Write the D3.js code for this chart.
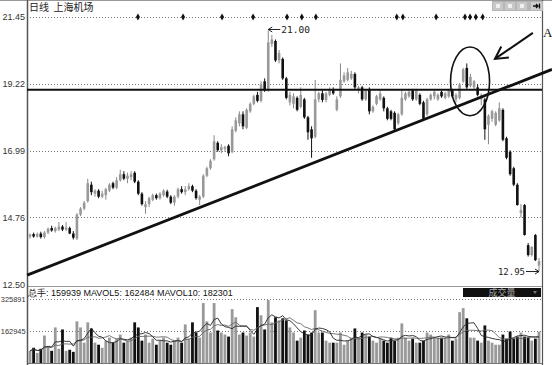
<!DOCTYPE html>
<html>
<head>
<meta charset="utf-8">
<script src="https://cdnjs.cloudflare.com/ajax/libs/d3/7.8.5/d3.min.js"></script>
<style>
body { margin: 0; background: #fff; }
svg { display: block; font-family: "Liberation Sans", Arial, sans-serif; }
</style>
</head>
<body>
<div class="chart"></div>
<script>
// DATA : [open, high, low, close] per trading day //
var priceBars = [
  [14.12,14.22,14.05,14.18],[14.20,14.25,14.08,14.12],[14.12,14.25,14.08,14.20],[14.22,14.28,14.05,14.10],
  [14.10,14.30,14.05,14.25],[14.25,14.42,14.20,14.38],[14.40,14.48,14.28,14.32],[14.30,14.45,14.25,14.40],
  [14.35,14.60,14.30,14.45],[14.45,14.50,14.30,14.35],[14.35,14.60,14.30,14.42],[14.40,14.45,14.20,14.22],
  [14.22,14.30,14.02,14.08],[14.05,14.90,14.00,14.85],[14.85,15.10,14.80,15.05],[15.05,15.30,15.00,15.25],
  [15.30,16.05,15.25,15.90],[15.85,15.95,15.50,15.60],[15.55,15.70,15.45,15.65],[15.65,15.70,15.40,15.45],
  [15.45,15.65,15.40,15.55],[15.50,15.75,15.35,15.70],[15.65,15.90,15.60,15.85],[15.90,15.95,15.70,15.75],
  [15.75,16.10,15.70,16.00],[16.00,16.35,15.95,16.20],[16.20,16.30,16.00,16.05],[16.05,16.25,15.90,16.15],
  [16.10,16.30,16.00,16.20],[16.25,16.30,15.90,15.95],[15.95,16.00,15.50,15.55],[15.55,15.60,15.15,15.20],
  [15.10,15.30,14.88,15.20],[15.20,15.45,15.10,15.40],[15.35,15.55,15.30,15.50],[15.50,15.55,15.35,15.40],
  [15.40,15.60,15.35,15.55],[15.50,15.70,15.45,15.65],[15.62,15.68,15.40,15.45],[15.45,15.50,15.20,15.25],
  [15.25,15.50,15.15,15.45],[15.45,15.75,15.40,15.70],[15.70,15.80,15.55,15.60],[15.60,15.80,15.50,15.70],
  [15.70,15.90,15.65,15.80],[15.80,15.85,15.60,15.65],[15.65,15.70,15.35,15.40],[15.35,15.50,15.17,15.45],
  [15.45,16.20,15.40,16.15],[16.15,16.45,16.10,16.40],[16.40,16.70,16.35,16.65],[16.70,17.50,16.65,17.30],
  [17.25,17.30,16.95,17.00],[17.00,17.20,16.90,17.10],[17.05,17.15,16.95,17.10],[17.15,17.20,16.80,16.90],
  [16.95,17.80,16.90,17.70],[17.65,18.10,17.60,18.00],[17.90,18.30,17.80,18.20],[18.20,18.30,17.70,17.80],
  [17.75,18.40,17.70,18.35],[18.30,18.60,18.25,18.55],[18.55,18.85,18.50,18.80],[18.85,18.95,18.60,18.65],
  [18.65,19.30,18.60,19.20],[19.30,19.40,18.95,19.00],[19.00,21.00,18.95,20.60],[20.55,20.85,20.45,20.70],
  [20.65,20.70,19.95,20.00],[20.00,20.35,19.90,20.25],[20.05,20.10,19.35,19.40],[19.40,19.45,18.70,18.75],
  [18.60,18.95,18.50,18.85],[18.55,18.90,18.40,18.80],[18.75,18.80,18.30,18.35],[18.45,19.10,18.40,18.85],
  [18.70,18.75,18.05,18.10],[18.10,18.15,17.35,17.60],[17.70,17.80,16.75,17.40],[17.45,19.35,17.40,18.70],
  [18.70,18.95,18.60,18.90],[18.90,19.00,18.60,18.68],[18.68,18.95,18.60,18.90],[18.85,19.10,18.80,19.00],
  [19.00,19.10,18.85,18.90],[18.35,18.80,18.30,18.70],[18.80,19.90,18.75,19.35],[19.30,19.60,19.25,19.50],
  [19.35,19.75,19.30,19.60],[19.40,19.65,19.35,19.55],[19.55,19.60,19.05,19.10],[19.00,19.15,18.90,19.10],
  [19.10,19.15,18.65,18.70],[18.70,19.05,18.65,19.00],[19.05,19.10,18.20,18.30],[18.30,18.50,18.25,18.45],
  [18.55,18.85,18.50,18.80],[18.70,19.00,18.65,18.90],[18.75,18.80,18.30,18.40],[18.40,18.45,18.00,18.05],
  [18.30,18.35,18.00,18.05],[18.25,18.30,17.65,17.70],[17.90,18.25,17.85,18.20],[18.20,19.00,18.15,18.75],
  [18.70,18.95,18.65,18.90],[18.80,19.05,18.75,18.95],[19.00,19.05,18.65,18.70],[18.70,19.05,18.65,19.00],
  [18.85,18.90,18.50,18.55],[18.60,18.65,18.00,18.05],[18.20,18.75,18.15,18.70],[18.70,18.90,18.65,18.85],
  [18.80,19.00,18.70,18.95],[18.70,18.90,18.65,18.85],[18.95,19.00,18.75,18.80],[18.75,18.95,18.70,18.90],
  [18.80,19.05,18.75,19.00],[19.00,19.05,18.75,18.80],[18.70,18.90,18.60,18.85],[18.75,19.25,18.70,19.20],
  [19.30,19.75,19.25,19.70],[19.75,19.90,19.05,19.10],[19.15,19.55,19.10,19.45],[19.10,19.35,19.05,19.30],
  [19.10,19.20,18.80,18.85],[18.70,18.90,18.50,18.85],[18.70,18.75,17.35,17.70],[17.85,18.20,17.20,18.15],
  [18.05,18.35,17.95,18.30],[17.85,18.30,17.80,18.25],[18.00,18.60,17.95,18.40],[18.35,18.40,17.30,17.35],
  [17.40,17.45,16.70,16.75],[16.95,17.00,16.15,16.20],[16.40,16.45,15.80,15.85],[15.85,15.90,15.15,15.17],
  [14.90,15.20,14.75,15.00],[15.17,15.20,14.15,14.17],[13.83,13.90,13.45,13.50],[13.50,13.80,13.45,13.77],
  [14.17,14.20,13.30,13.33],[13.15,13.40,12.95,13.30]
];

var volumes = [
  62100,77600,51700,72400,139700,82800,62100,181100,72400,170700,62100,67300,56900,212100,181100,103500,
  206900,175900,103500,93100,77600,113800,129300,103500,124200,144800,103500,113800,129300,206900,181100,113800,
  144800,103500,124200,93100,113800,129300,103500,93100,113800,129300,103500,196600,124200,206900,155200,129300,
  305200,212100,155200,305200,165500,155200,144800,134500,274200,232800,144800,155200,139700,155200,134500,284500,
  243100,170700,320700,206900,232800,217300,227600,217300,181100,155200,113800,129300,165500,144800,155200,269000,
  155200,155200,113800,103500,103500,103500,155200,93100,113800,129300,175900,129300,155200,144800,134500,113800,
  103500,124200,113800,103500,129300,113800,129300,201700,129300,113800,124200,103500,103500,113800,155200,144800,
  129300,129300,129300,129300,144800,113800,124200,258700,279300,227600,129300,129300,113800,103500,191400,113800,
  103500,93100,93100,144800,124200,160400,124200,134500,155200,134500,129300,113800,124200,159939
];

var priceTicks = [21.45, 19.22, 16.99, 14.76, 12.50];
var volTicks = [325891, 162945];
var markerIdx = [29.9, 42.4, 53.2, 61.8, 71.2, 75.3, 79.2, 101.6, 103.3, 112.5, 120.5, 121.9, 123.5, 125.4];
var resistance = 19.02;
var trendPts = [[-0.8, 12.83], [144.6, 19.70]];
var circleBox = { i0: 116.5, i1: 127.3, top: 20.45, bottom: 18.15 };
var arrowPts = [[139.3, 20.92], [128.8, 20.05]];
var title = '日线  上海机场';
var volHeader = '总手: 159939 MAVOL5: 162484 MAVOL10: 182301';

// SETUP //
var width = 552, height = 365,
    left = 27, right = 542;

var svg = d3.select('.chart').append('svg')
    .attr('width', width)
    .attr('height', height);

svg.append('rect').attr('width', width).attr('height', height).attr('fill', '#fff');

var x = d3.scaleLinear().domain([0, priceBars.length - 1]).range([30, 539]);
var yP = d3.scaleLinear().domain([12.50, 21.45]).range([285, 17]);
var yV = d3.scaleLinear().domain([0, 325891]).range([363, 299]);

// GRID //
svg.selectAll('.pgrid')
    .data(priceTicks.slice(0, 4))
    .enter().append('line')
    .attr('x1', left).attr('x2', right)
    .attr('y1', function(d) { return Math.round(yP(d)) + 0.5; })
    .attr('y2', function(d) { return Math.round(yP(d)) + 0.5; })
    .attr('stroke', '#777').attr('stroke-dasharray', '1,2');

svg.selectAll('.vgrid')
    .data(volTicks)
    .enter().append('line')
    .attr('x1', left).attr('x2', right)
    .attr('y1', function(d) { return Math.round(yV(d)) + 0.5; })
    .attr('y2', function(d) { return Math.round(yV(d)) + 0.5; })
    .attr('stroke', '#777').attr('stroke-dasharray', '1,2');

// FRAME //
svg.append('line').attr('x1', 0).attr('x2', width).attr('y1', 0.5).attr('y2', 0.5).attr('stroke', '#999');
svg.append('line').attr('x1', left).attr('x2', right).attr('y1', 286.5).attr('y2', 286.5).attr('stroke', '#999');
svg.append('line').attr('x1', left).attr('x2', right).attr('y1', 363.5).attr('y2', 363.5).attr('stroke', '#777');
svg.append('line').attr('x1', left + 0.5).attr('x2', left + 0.5).attr('y1', 0).attr('y2', height)
    .attr('stroke', '#555').attr('stroke-width', 1.5);
svg.append('line').attr('x1', right + 0.5).attr('x2', right + 0.5).attr('y1', 0).attr('y2', height)
    .attr('stroke', '#555').attr('stroke-width', 1.2);

// AXES //
var pAxis = svg.append('g')
    .attr('transform', 'translate(' + left + ',0)')
    .call(d3.axisLeft(yP).tickValues(priceTicks).tickSize(0).tickPadding(2).tickFormat(d3.format('.2f')));
pAxis.select('.domain').remove();
pAxis.selectAll('text').attr('font-size', 9).attr('fill', '#333').attr('font-family', '"Liberation Sans", Arial, sans-serif');

var vAxis = svg.append('g')
    .attr('transform', 'translate(' + (left - 0.5) + ',0)')
    .call(d3.axisLeft(yV).tickValues(volTicks).tickSize(0).tickPadding(1).tickFormat(d3.format('d')));
vAxis.select('.domain').remove();
vAxis.selectAll('text').attr('font-size', 7.4).attr('fill', '#333').attr('font-family', '"Liberation Sans", Arial, sans-serif');

// CANDLES //
function isUp(d) { return d[3] >= d[0]; }

var candles = svg.append('g').selectAll('g')
    .data(priceBars)
    .enter().append('g');

candles.append('line')
    .attr('x1', function(d, i) { return x(i); })
    .attr('x2', function(d, i) { return x(i); })
    .attr('y1', function(d) { return yP(d[1]); })
    .attr('y2', function(d) { return yP(d[2]); })
    .attr('stroke', function(d) { return isUp(d) ? '#888' : '#111'; })
    .attr('stroke-width', 1);

candles.append('rect')
    .attr('x', function(d, i) { return x(i) - 1.3; })
    .attr('width', 2.6)
    .attr('y', function(d) { return yP(Math.max(d[0], d[3])); })
    .attr('height', function(d) { return Math.max(1, Math.abs(yP(d[0]) - yP(d[3]))); })
    .attr('fill', function(d) { return isUp(d) ? '#999' : '#111'; });

// TOP MARKERS //
svg.selectAll('.marker')
    .data(markerIdx)
    .enter().append('path')
    .attr('d', d3.symbol().type(d3.symbolDiamond).size(14))
    .attr('transform', function(d) { return 'translate(' + x(d) + ',' + yP(21.45) + ')'; })
    .attr('fill', '#111');

// LINES DRAWN ON CHART //
svg.append('line')
    .attr('x1', left).attr('x2', right)
    .attr('y1', yP(resistance)).attr('y2', yP(resistance))
    .attr('stroke', '#111').attr('stroke-width', 2.2);

svg.append('line')
    .attr('x1', x(trendPts[0][0])).attr('y1', yP(trendPts[0][1]))
    .attr('x2', x(trendPts[1][0])).attr('y2', yP(trendPts[1][1]))
    .attr('stroke', '#111').attr('stroke-width', 2.8);

var cx0 = x(circleBox.i0), cx1 = x(circleBox.i1),
    cy0 = yP(circleBox.top), cy1 = yP(circleBox.bottom);
svg.append('ellipse')
    .attr('cx', (cx0 + cx1) / 2).attr('cy', (cy0 + cy1) / 2)
    .attr('rx', (cx1 - cx0) / 2).attr('ry', (cy1 - cy0) / 2)
    .attr('fill', 'none').attr('stroke', '#111').attr('stroke-width', 1.6);

// ARROW TO "A" //
var ax0 = x(arrowPts[0][0]), ay0 = yP(arrowPts[0][1]),
    ax1 = x(arrowPts[1][0]), ay1 = yP(arrowPts[1][1]);
var ang = Math.atan2(ay0 - ay1, ax0 - ax1), headLen = 14;
svg.append('line')
    .attr('x1', ax0).attr('y1', ay0).attr('x2', ax1).attr('y2', ay1)
    .attr('stroke', '#111').attr('stroke-width', 2);
svg.append('path')
    .attr('d', 'M' + (ax1 + headLen * Math.cos(ang - 0.5)) + ',' + (ay1 + headLen * Math.sin(ang - 0.5)) +
        'L' + ax1 + ',' + ay1 +
        'L' + (ax1 + headLen * Math.cos(ang + 0.5)) + ',' + (ay1 + headLen * Math.sin(ang + 0.5)))
    .attr('fill', 'none').attr('stroke', '#111').attr('stroke-width', 2);
svg.append('text')
    .attr('x', 543).attr('y', 37)
    .attr('font-family', '"Liberation Serif", serif').attr('font-size', 13)
    .attr('fill', '#111').text('A');

// HIGH / LOW LABELS //
var hiIdx = d3.maxIndex(priceBars, function(d) { return d[1]; }),
    loIdx = d3.minIndex(priceBars, function(d) { return d[2]; });
var hiX = x(hiIdx), hiY = yP(priceBars[hiIdx][1]);
svg.append('line').attr('x1', hiX).attr('x2', hiX + 12).attr('y1', hiY - 1).attr('y2', hiY - 1)
    .attr('stroke', '#222').attr('stroke-width', 1);
svg.append('path').attr('d', 'M' + (hiX + 4) + ',' + (hiY - 3.5) + 'L' + hiX + ',' + (hiY - 1) + 'L' + (hiX + 4) + ',' + (hiY + 1.5))
    .attr('fill', 'none').attr('stroke', '#222');
svg.append('text').attr('x', hiX + 13).attr('y', hiY + 2.5)
    .attr('font-family', '"DejaVu Sans Mono", monospace').attr('font-size', 9.5).attr('fill', '#222')
    .text(d3.format('.2f')(priceBars[hiIdx][1]));

var loX = x(loIdx), loY = yP(priceBars[loIdx][2]);
svg.append('line').attr('x1', loX - 13).attr('x2', loX).attr('y1', loY).attr('y2', loY)
    .attr('stroke', '#222').attr('stroke-width', 1);
svg.append('path').attr('d', 'M' + (loX - 4) + ',' + (loY - 2.5) + 'L' + loX + ',' + loY + 'L' + (loX - 4) + ',' + (loY + 2.5))
    .attr('fill', 'none').attr('stroke', '#222');
svg.append('text').attr('x', loX - 14).attr('y', loY + 3.5).attr('text-anchor', 'end')
    .attr('font-family', '"DejaVu Sans Mono", monospace').attr('font-size', 9).attr('fill', '#222')
    .text(d3.format('.2f')(priceBars[loIdx][2]));

// TITLE + BUTTONS //
svg.append('text').attr('x', 29).attr('y', 11)
    .attr('font-family', '"Noto Sans CJK SC", sans-serif').attr('font-size', 10).attr('fill', '#222')
    .attr('xml:space', 'preserve').style('white-space', 'pre')
    .text(title);

var btn = svg.append('g');
btn.append('rect').attr('x', 492).attr('y', 1).attr('width', 51).attr('height', 10).attr('fill', '#b5b5b5');
[493, 505, 517].forEach(function(bx) {
    btn.append('rect').attr('x', bx).attr('y', 2).attr('width', 10).attr('height', 8).attr('fill', '#c8c8c8');
    btn.append('rect').attr('x', bx + 3).attr('y', 4).attr('width', 4).attr('height', 4).attr('fill', '#f0f0f0');
});
btn.append('rect').attr('x', 531).attr('y', 2).attr('width', 11).attr('height', 8).attr('fill', '#cfcfcf');
btn.append('path').attr('d', 'M533,6H538M536,4L538,6L536,8M539.5,3.5V8.5').attr('stroke', '#111').attr('stroke-width', 1.3).attr('fill', 'none');

// VOLUME PANEL //
svg.append('text').attr('x', 28).attr('y', 296)
    .attr('font-size', 9).attr('fill', '#111')
    .text(volHeader);

svg.append('rect').attr('x', 463).attr('y', 288).attr('width', 78).attr('height', 9).attr('fill', '#111');
svg.append('text').attr('x', 502).attr('y', 296).attr('text-anchor', 'middle')
    .attr('font-family', '"Noto Sans CJK SC", sans-serif').attr('font-size', 9).attr('fill', '#aaa')
    .text('成交量');
svg.append('path').attr('d', 'M533,291L537,291L535,294Z').attr('fill', '#777');

svg.append('g').selectAll('rect')
    .data(volumes)
    .enter().append('rect')
    .attr('x', function(d, i) { return x(i) - 1.4; })
    .attr('width', 2.8)
    .attr('y', function(d) { return yV(d); })
    .attr('height', function(d) { return Math.max(0, 363 - yV(d)); })
    .attr('fill', function(d, i) { return isUp(priceBars[i]) ? '#999' : '#111'; });

function movAvg(n) {
    return volumes.map(function(v, i) {
        return d3.mean(volumes.slice(Math.max(0, i - n + 1), i + 1));
    });
}

var maLine = d3.line()
    .x(function(d, i) { return x(i); })
    .y(function(d) { return yV(d); });

svg.append('path').datum(movAvg(10)).attr('d', maLine)
    .attr('fill', 'none').attr('stroke', '#666').attr('stroke-width', 0.9);
svg.append('path').datum(movAvg(5)).attr('d', maLine)
    .attr('fill', 'none').attr('stroke', '#222').attr('stroke-width', 0.9);
</script>
</body>
</html>
